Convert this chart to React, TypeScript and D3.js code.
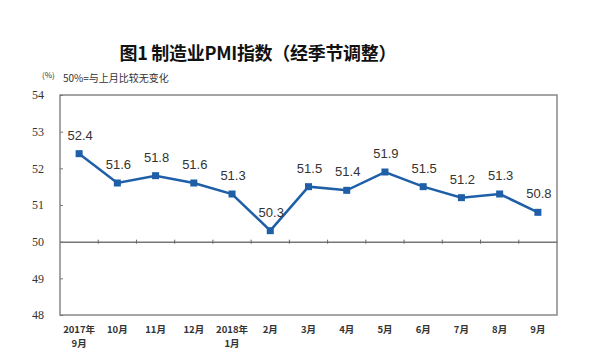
import * as d3 from 'd3';
import { useEffect, useRef } from 'react';

// PMI data, Sept 2017 - Sept 2018
const months = ['2017年|9月', '10月', '11月', '12月', '2018年|1月', '2月', '3月', '4月', '5月', '6月', '7月', '8月', '9月'];
const pmi = [52.4, 51.6, 51.8, 51.6, 51.3, 50.3, 51.5, 51.4, 51.9, 51.5, 51.2, 51.3, 50.8];
const yTicks = [48, 49, 50, 51, 52, 53, 54];

export default function App() {
  const ref = useRef<SVGSVGElement>(null);

  useEffect(() => {
    const svg = d3.select(ref.current);
    svg.selectAll('*').remove();

    const W = 600, H = 359;
    const margin = { top: 95, right: 43, bottom: 44, left: 60 };
    const width = W - margin.left - margin.right;
    const height = H - margin.top - margin.bottom;
    const cjk = '"Noto Sans CJK SC",sans-serif';

    svg.append('rect').attr('width', W).attr('height', H).attr('fill', '#fff');

    // title
    svg.append('text')
      .attr('x', 258).attr('y', 60)
      .attr('text-anchor', 'middle')
      .attr('font-family', cjk)
      .attr('font-size', 18).attr('font-weight', 'bold').attr('fill', '#111')
      .attr('textLength', 277)
      .text('图1  制造业PMI指数（经季节调整）');

    svg.append('text')
      .attr('x', 42).attr('y', 78)
      .attr('font-family', cjk)
      .attr('font-size', 8).attr('fill', '#333')
      .text('(%)');
    svg.append('text')
      .attr('x', 63).attr('y', 82)
      .attr('font-family', cjk)
      .attr('font-size', 10).attr('fill', '#333')
      .text('50%=与上月比较无变化');

    const g = svg.append('g').attr('transform', `translate(${margin.left},${margin.top})`);

    const x = d3.scaleBand().domain(months).range([0, width]);
    const y = d3.scaleLinear().domain([48, 54]).range([height, 0]);

    // frame
    g.append('rect')
      .attr('x', 0).attr('y', 0).attr('width', width).attr('height', height)
      .attr('fill', 'none').attr('stroke', '#888').attr('stroke-width', 1.5);

    // y axis
    const yAxis = g.append('g').call(
      d3.axisLeft(y).tickValues(yTicks).tickFormat(d3.format('d')).tickSize(-3).tickPadding(16)
    );
    yAxis.select('.domain').remove();
    yAxis.selectAll('line').attr('stroke', '#777');
    yAxis.selectAll('text')
      .attr('font-family', '"Liberation Serif",serif')
      .attr('font-size', 12).attr('fill', '#333');

    // x axis at 50
    const xAxis = g.append('g')
      .attr('transform', `translate(0,${y(50)})`)
      .call(d3.axisBottom(x).tickSize(0).tickFormat(() => ''));
    xAxis.select('.domain').attr('stroke', '#777').attr('stroke-width', 1.5);
    xAxis.selectAll('.tick').remove();
    g.append('g').selectAll('line')
      .data(months.slice(1))
      .join('line')
      .attr('x1', d => x(d)!).attr('x2', d => x(d)!)
      .attr('y1', y(50) - 2).attr('y2', y(50) + 2)
      .attr('stroke', '#666');

    // x labels, one text per line
    const rows = months.flatMap(m => m.split('|').map((p, i) => ({ m, p, i })));
    g.append('g').selectAll('text')
      .data(rows)
      .join('text')
      .attr('x', d => x(d.m)! + x.bandwidth() / 2)
      .attr('y', d => height + 18 + d.i * 14)
      .attr('text-anchor', 'middle')
      .attr('font-family', cjk)
      .attr('font-size', 9.5).attr('font-weight', 'bold').attr('fill', '#333')
      .text(d => d.p);

    const cx = (i: number) => x(months[i])! + x.bandwidth() / 2;

    // line
    const line = d3.line<number>().x((_, i) => cx(i)).y(d => y(d));
    g.append('path')
      .datum(pmi)
      .attr('d', line)
      .attr('fill', 'none')
      .attr('stroke', '#1f5fa8')
      .attr('stroke-width', 2.5);

    g.append('g').selectAll('rect')
      .data(pmi)
      .join('rect')
      .attr('x', (_, i) => cx(i) - 3.5)
      .attr('y', d => y(d) - 3.5)
      .attr('width', 7).attr('height', 7)
      .attr('fill', '#1f5fa8');

    // value labels
    g.append('g').selectAll('text')
      .data(pmi)
      .join('text')
      .attr('x', (_, i) => cx(i) + 1)
      .attr('y', d => y(d) - 14)
      .attr('text-anchor', 'middle')
      .attr('font-family', '"Liberation Sans",Arial,sans-serif')
      .attr('font-size', 13).attr('fill', '#333')
      .text(d => d.toFixed(1));
  }, []);

  return (
    <svg ref={ref} width={600} height={359} style={{ position: 'absolute', left: 0, top: 0 }} />
  );
}
